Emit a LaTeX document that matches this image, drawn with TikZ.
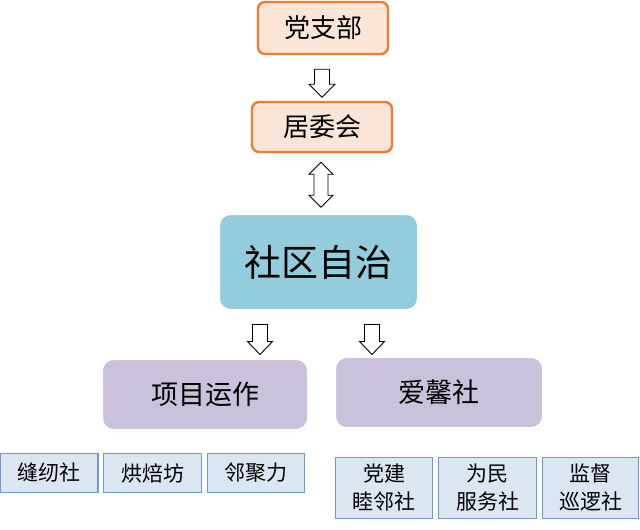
\documentclass[tikz,border=0pt]{standalone}
\usepackage{fontspec}
\setmainfont{Noto Sans CJK SC}
\usetikzlibrary{shadows,calc}
\definecolor{peach}{HTML}{FBE5D6}
\definecolor{orangeb}{HTML}{ED7D31}
\definecolor{cyanf}{HTML}{93CDDD}
\definecolor{purplef}{HTML}{CCC1DA}
\definecolor{bluef}{HTML}{DCE6F2}
\definecolor{blueb}{HTML}{6C9BD2}
\tikzset{
  topbox/.style={draw=orangeb, line width=2.4pt, fill=peach, rounded corners=7pt, inner sep=0pt, font=\fontsize{26}{30}\selectfont},
  midbox/.style={draw=white, line width=3pt, rounded corners=12pt, inner sep=0pt,
     drop shadow={opacity=0.25, shadow xshift=0.8pt, shadow yshift=-1.5pt}},
  smallbox/.style={draw=blueb, line width=1.6pt, fill=bluef, inner sep=0pt, align=center, font=\fontsize{21}{28}\selectfont},
  blockarrow/.style={draw=black, fill=white, line width=0.9pt, line join=miter}
}
\begin{document}
\begin{tikzpicture}[x=1pt,y=-1pt]
\useasboundingbox[fill=white] (0,0) rectangle (640,530);
\node[topbox, minimum width=130pt, minimum height=52pt] (dzb) at (323,28) {党支部};
\node[topbox, minimum width=140pt, minimum height=50pt] (jwh) at (322,127) {居委会};
\node[midbox, fill=cyanf, minimum width=200pt, minimum height=97pt, font=\fontsize{37}{42}\selectfont] (sqzz) at (318.5,262) {社区自治};
\node[midbox, fill=purplef, minimum width=207pt, minimum height=72pt, font=\fontsize{27}{32}\selectfont] (xmyz) at (205,394.5) {项目运作};
\node[midbox, fill=purplef, minimum width=209pt, minimum height=72pt, font=\fontsize{27}{32}\selectfont] (axs) at (439,392.5) {爱馨社};
% bottom small boxes
\node[smallbox, minimum width=98pt, minimum height=39pt] (frs) at (49,473) {缝纫社};
\node[smallbox, minimum width=98pt, minimum height=39pt] (hbf) at (152.5,473) {烘焙坊};
\node[smallbox, minimum width=97pt, minimum height=39pt] (ljl) at (256,473) {邻聚力};
\node[smallbox, minimum width=97pt, minimum height=61pt] (djml) at (384,488) {党建\\睦邻社};
\node[smallbox, minimum width=98pt, minimum height=61pt] (wmfw) at (487.5,488) {为民\\服务社};
\node[smallbox, minimum width=96pt, minimum height=61pt] (jdxl) at (590.5,488) {监督\\巡逻社};
% arrow anchor points
\coordinate (t1) at ($(dzb.south)+(-1,14)$);
\coordinate (t2) at ($(jwh.south)+(-1,9)$);
\coordinate (t3) at ($(sqzz.south)+(-58.5,12.5)$);
\coordinate (t4) at ($(sqzz.south)+(53.5,12.5)$);
% arrows
\draw[blockarrow] ($(t1)+(-7.5,0)$) -- ++(15,0) -- ++(0,15) -- ++(5.5,0) -- ++(-13,13) -- ++(-13,-13) -- ++(5.5,0) -- cycle;
\draw[blockarrow] (t2) -- ++(12,12) -- ++(-5,0) -- ++(0,21) -- ++(5,0) -- ++(-12,12) -- ++(-12,-12) -- ++(5,0) -- ++(0,-21) -- ++(-5,0) -- cycle;
\draw[blockarrow] ($(t3)+(-7.5,0)$) -- ++(15,0) -- ++(0,17) -- ++(5,0) -- ++(-12.5,13) -- ++(-12.5,-13) -- ++(5,0) -- cycle;
\draw[blockarrow] ($(t4)+(-7.5,0)$) -- ++(15,0) -- ++(0,17) -- ++(5,0) -- ++(-12.5,13) -- ++(-12.5,-13) -- ++(5,0) -- cycle;
\end{tikzpicture}
\end{document}
